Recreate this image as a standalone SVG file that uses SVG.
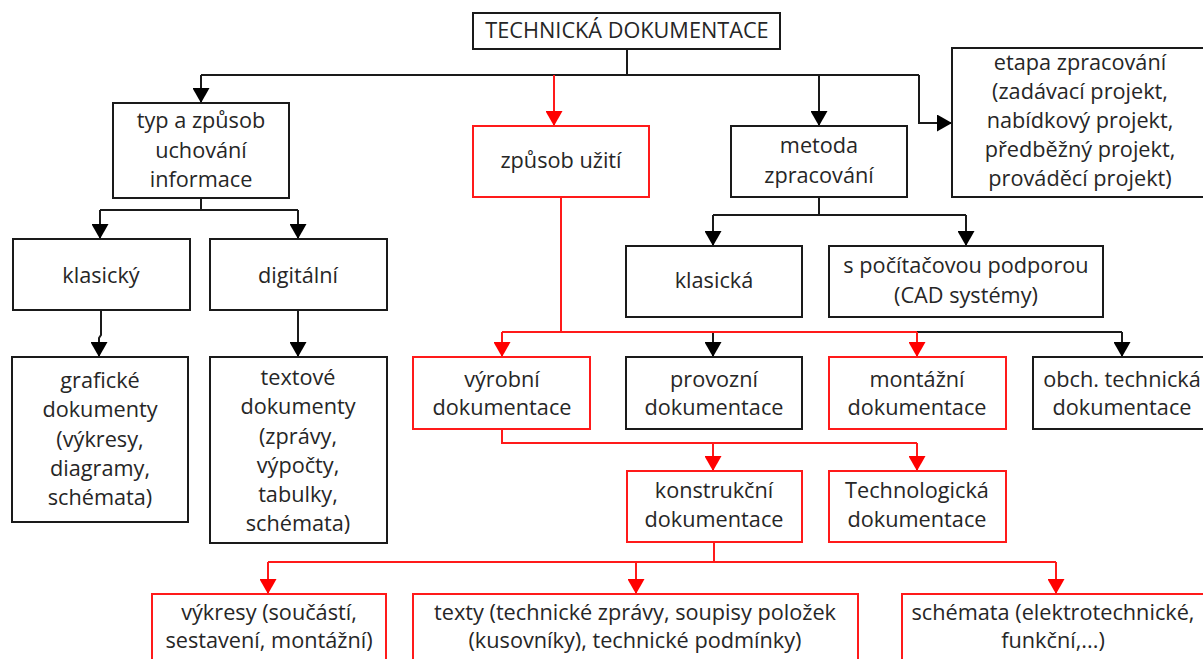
<svg xmlns="http://www.w3.org/2000/svg" width="1203" height="659" viewBox="0 0 1203 659">
  <style>
    .box { fill: #ffffff; stroke: #1a1a1a; stroke-width: 2; }
    .box.red { stroke: #ff1a1a; }
    .lbl { font-family: "Open Sans", "Noto Sans", sans-serif; font-size: 21.7px; fill: #262626; text-anchor: middle; }
    .ln { fill: none; stroke: #1a1a1a; stroke-width: 2; }
    .ln.red { stroke: #ff1a1a; }
    .arr { marker-end: url(#headBlack); }
    .arr.red { marker-end: url(#headRed); }
  </style>
  <defs>
    <marker id="headBlack" markerUnits="userSpaceOnUse" viewBox="0 0 15 17" markerWidth="15" markerHeight="17" refX="15" refY="8.5" orient="auto">
      <path d="M0,0 L15,8.5 L0,17 Z" fill="#000000"/>
    </marker>
    <marker id="headRed" markerUnits="userSpaceOnUse" viewBox="0 0 15 17" markerWidth="15" markerHeight="17" refX="15" refY="8.5" orient="auto">
      <path d="M0,0 L15,8.5 L0,17 Z" fill="#ff0000"/>
    </marker>
  </defs>
  <rect width="1203" height="659" fill="#ffffff"/>

  <g id="connectors">
    <!-- root fan-out -->
    <path class="ln" d="M627,49 V75"/>
    <path class="ln" d="M201,75 H919"/>
    <path class="ln arr" d="M201,75 V103"/>
    <path class="ln red arr" d="M554,75 V126"/>
    <path class="ln arr" d="M819,75 V126"/>
    <path class="ln arr" d="M919,75 V123 H952"/>
    <!-- storage type -->
    <path class="ln" d="M201,198 V210"/>
    <path class="ln" d="M100,210 H298"/>
    <path class="ln arr" d="M100,210 V239"/>
    <path class="ln arr" d="M298,210 V239"/>
    <path class="ln arr" d="M101,310 V335 L99,338 V357"/>
    <path class="ln arr" d="M298,310 V357"/>
    <!-- processing method -->
    <path class="ln" d="M819,197 V215"/>
    <path class="ln" d="M713,215 H966"/>
    <path class="ln arr" d="M713,215 V246"/>
    <path class="ln arr" d="M966,215 V246"/>
    <!-- usage -->
    <path class="ln" d="M915,332 H1122"/>
    <path class="ln arr" d="M1122,332 V357"/>
    <path class="ln arr" d="M713,332 V357"/>
    <path class="ln red" d="M561,197 V332"/>
    <path class="ln red" d="M502,332 H917"/>
    <path class="ln red arr" d="M502,332 V357"/>
    <path class="ln red arr" d="M917,332 V357"/>
    <!-- production documentation -->
    <path class="ln red" d="M502,429 V443 H917"/>
    <path class="ln red arr" d="M713,443 V471"/>
    <path class="ln red arr" d="M917,443 V471"/>
    <!-- design documentation -->
    <path class="ln red" d="M714,542 V562"/>
    <path class="ln red" d="M268,562 H1056"/>
    <path class="ln red arr" d="M268,562 V594"/>
    <path class="ln red arr" d="M636,562 V594"/>
    <path class="ln red arr" d="M1056,562 V594"/>
  </g>

  <g id="root">
    <rect class="box" x="473" y="13" width="307" height="36"/>
    <text class="lbl" x="627" y="38">TECHNICKÁ DOKUMENTACE</text>
  </g>

  <g id="typ">
    <rect class="box" x="113" y="103" width="176" height="95"/>
    <text class="lbl" x="201" y="128">typ a způsob</text>
    <text class="lbl" x="201" y="158">uchování</text>
    <text class="lbl" x="201" y="187">informace</text>
  </g>

  <g id="zpusob">
    <rect class="box red" x="473" y="126" width="176" height="71"/>
    <text class="lbl" x="561" y="168">způsob užití</text>
  </g>

  <g id="metoda">
    <rect class="box" x="731" y="126" width="176" height="71"/>
    <text class="lbl" x="819" y="153">metoda</text>
    <text class="lbl" x="819" y="183">zpracování</text>
  </g>

  <g id="etapa">
    <rect class="box" x="952" y="48" width="262" height="149"/>
    <text class="lbl" x="1080" y="70">etapa zpracování</text>
    <text class="lbl" x="1080" y="99">(zadávací projekt,</text>
    <text class="lbl" x="1080" y="128">nabídkový projekt,</text>
    <text class="lbl" x="1080" y="157">předběžný projekt,</text>
    <text class="lbl" x="1080" y="186">prováděcí projekt)</text>
  </g>

  <g id="klasicky">
    <rect class="box" x="13" y="239" width="177" height="71"/>
    <text class="lbl" x="101" y="283">klasický</text>
  </g>

  <g id="digitalni">
    <rect class="box" x="210" y="239" width="177" height="71"/>
    <text class="lbl" x="298" y="283">digitální</text>
  </g>

  <g id="graficke">
    <rect class="box" x="12" y="357" width="176" height="165"/>
    <text class="lbl" x="100" y="388">grafické</text>
    <text class="lbl" x="100" y="417">dokumenty</text>
    <text class="lbl" x="100" y="447">(výkresy,</text>
    <text class="lbl" x="100" y="476">diagramy,</text>
    <text class="lbl" x="100" y="505">schémata)</text>
  </g>

  <g id="textove">
    <rect class="box" x="210" y="357" width="177" height="186"/>
    <text class="lbl" x="298" y="385">textové</text>
    <text class="lbl" x="298" y="414">dokumenty</text>
    <text class="lbl" x="298" y="444">(zprávy,</text>
    <text class="lbl" x="298" y="473">výpočty,</text>
    <text class="lbl" x="298" y="502">tabulky,</text>
    <text class="lbl" x="298" y="531">schémata)</text>
  </g>

  <g id="klasicka">
    <rect class="box" x="626" y="246" width="176" height="71"/>
    <text class="lbl" x="714" y="288">klasická</text>
  </g>

  <g id="cad">
    <rect class="box" x="829" y="246" width="274" height="71"/>
    <text class="lbl" x="966" y="273">s počítačovou podporou</text>
    <text class="lbl" x="966" y="303">(CAD systémy)</text>
  </g>

  <g id="vyrobni">
    <rect class="box red" x="413" y="357" width="177" height="72"/>
    <text class="lbl" x="502" y="387">výrobní</text>
    <text class="lbl" x="502" y="415">dokumentace</text>
  </g>

  <g id="provozni">
    <rect class="box" x="626" y="357" width="176" height="72"/>
    <text class="lbl" x="714" y="387">provozní</text>
    <text class="lbl" x="714" y="415">dokumentace</text>
  </g>

  <g id="montazni">
    <rect class="box red" x="829" y="357" width="177" height="72"/>
    <text class="lbl" x="917" y="387">montážní</text>
    <text class="lbl" x="917" y="415">dokumentace</text>
  </g>

  <g id="obchodni">
    <rect class="box" x="1033" y="357" width="180" height="72"/>
    <text class="lbl" x="1122" y="387">obch. technická</text>
    <text class="lbl" x="1122" y="415">dokumentace</text>
  </g>

  <g id="konstrukcni">
    <rect class="box red" x="627" y="471" width="175" height="71"/>
    <text class="lbl" x="714" y="498">konstrukční</text>
    <text class="lbl" x="714" y="527">dokumentace</text>
  </g>

  <g id="technologicka">
    <rect class="box red" x="829" y="471" width="177" height="71"/>
    <text class="lbl" x="917" y="498">Technologická</text>
    <text class="lbl" x="917" y="527">dokumentace</text>
  </g>

  <g id="vykresy">
    <rect class="box red" x="152" y="594" width="234" height="90"/>
    <text class="lbl" x="269" y="620">výkresy (součástí,</text>
    <text class="lbl" x="269" y="648">sestavení, montážní)</text>
  </g>

  <g id="texty">
    <rect class="box red" x="413" y="594" width="445" height="90"/>
    <text class="lbl" x="635" y="620">texty (technické zprávy, soupisy položek</text>
    <text class="lbl" x="635" y="648">(kusovníky), technické podmínky)</text>
  </g>

  <g id="schemata">
    <rect class="box red" x="902" y="594" width="320" height="90"/>
    <text class="lbl" x="1053" y="620">schémata (elektrotechnické,</text>
    <text class="lbl" x="1053" y="648">funkční,...)</text>
  </g>
</svg>
